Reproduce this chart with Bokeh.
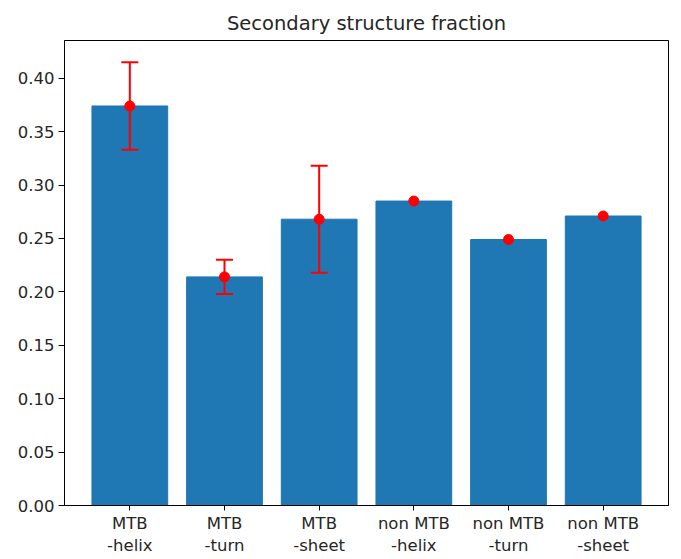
from bokeh.plotting import figure
from bokeh.models import Range1d, FixedTicker, Whisker, ColumnDataSource, TeeHead
from bokeh.embed import file_html
from bokeh.resources import INLINE

categories = ["MTB\n-helix", "MTB\n-turn", "MTB\n-sheet",
              "non MTB\n-helix", "non MTB\n-turn", "non MTB\n-sheet"]
means = [0.374, 0.214, 0.268, 0.285, 0.249, 0.271]
errors = [0.041, 0.016, 0.050, 0.0, 0.0, 0.0]
y_ticks = [0.00, 0.05, 0.10, 0.15, 0.20, 0.25, 0.30, 0.35, 0.40]

xs = list(range(len(categories)))

p = figure(width=681, height=559, output_backend="svg", toolbar_location=None,
           x_range=Range1d(-0.69, 5.69), y_range=Range1d(0, 0.4353),
           min_border_left=64, min_border_right=13, min_border_top=40, min_border_bottom=54)

p.title.text = "Secondary structure fraction"
p.title.align = "center"
p.title.text_font = "DejaVu Sans"
p.title.text_font_size = "19.5px"
p.title.text_font_style = "normal"
p.title.text_color = "#262626"
p.title.offset = 0
p.title.standoff = 11

p.vbar(x=xs, top=means, width=0.8, color="#1f77b4")

err_x = [x for x, e in zip(xs, errors) if e > 0]
err_lo = [m - e for m, e in zip(means, errors) if e > 0]
err_hi = [m + e for m, e in zip(means, errors) if e > 0]
src = ColumnDataSource(dict(x=err_x, lo=err_lo, hi=err_hi))
w = Whisker(source=src, base="x", lower="lo", upper="hi", line_color="red", line_width=2,
            upper_head=TeeHead(size=17, line_color="red", line_width=2),
            lower_head=TeeHead(size=17, line_color="red", line_width=2),
            level="overlay")
p.add_layout(w)

p.scatter(x=xs, y=means, size=10, color="red", level="overlay")

p.xgrid.visible = False
p.ygrid.visible = False
p.outline_line_color = "black"
p.outline_line_width = 1
p.background_fill_color = "white"
p.border_fill_color = "white"

p.xaxis.ticker = FixedTicker(ticks=xs)
p.xaxis.major_label_overrides = {i: c for i, c in enumerate(categories)}
p.yaxis.ticker = FixedTicker(ticks=y_ticks)
p.yaxis.major_label_overrides = {t: f"{t:.2f}" for t in y_ticks}

for ax in (p.xaxis[0], p.yaxis[0]):
    ax.axis_line_color = "black"
    ax.major_tick_in = 0
    ax.major_label_text_font = "DejaVu Sans"
    ax.major_label_text_font_size = "16.5px"
    ax.major_label_text_color = "#262626"
    ax.minor_tick_line_color = None

p.yaxis[0].major_tick_out = 6
p.yaxis[0].major_label_standoff = 4
p.xaxis[0].major_tick_out = 5
p.xaxis[0].major_label_standoff = 3

out = file_html(p, INLINE)
open("out.html", "w").write(out)
